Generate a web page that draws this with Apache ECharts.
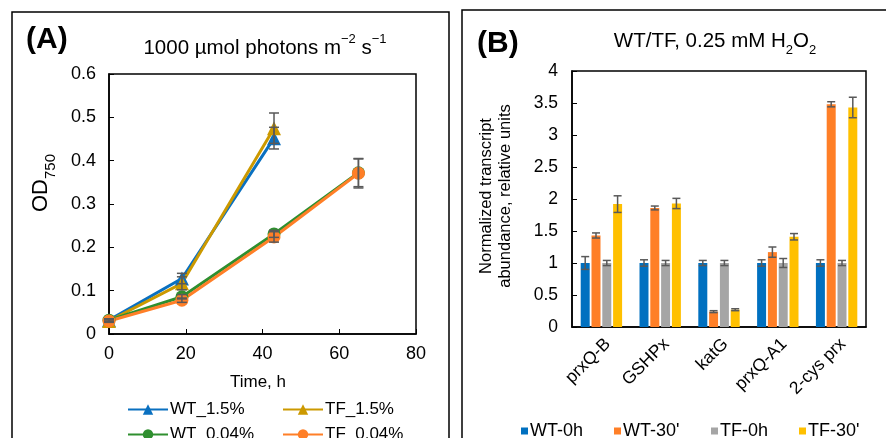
<!DOCTYPE html>
<html><head><meta charset="utf-8">
<script src="https://cdn.jsdelivr.net/npm/echarts@6/dist/echarts.min.js"></script>
<style>html,body{margin:0;padding:0;background:#fff}#c{width:886px;height:438px}</style>
</head><body><div id="c"></div>
<script>
const FONT = 'Liberation Sans, Arial, sans-serif';

// ---- Panel A data (OD750 vs time) ----
const timesHigh = [0, 19, 43];
const timesLow = [0, 19, 43, 65];
const wt15 = [0.032, 0.128, 0.452];
const wt15Err = [0.003, 0.012, 0.025];
const tf15 = [0.030, 0.117, 0.475];
const tf15Err = [0.003, 0.015, 0.035];
const wt004 = [0.032, 0.086, 0.231, 0.372];
const wt004Err = [0.003, 0.005, 0.008, 0.032];
const tf004 = [0.030, 0.078, 0.224, 0.371];
const tf004Err = [0.003, 0.005, 0.012, 0.034];

// ---- Panel B data (transcript abundance) ----
const genes = ['prxQ-B', 'GSHPx', 'katG', 'prxQ-A1', '2-cys prx'];
const wt0 = [1, 1, 1, 1, 1];
const wt0Err = [0.10, 0.05, 0.04, 0.05, 0.05];
const wt30 = [1.43, 1.86, 0.24, 1.17, 3.48];
const wt30Err = [0.04, 0.03, 0.015, 0.08, 0.04];
const tf0 = [1, 1, 1, 1, 1];
const tf0Err = [0.04, 0.04, 0.04, 0.07, 0.04];
const tf30 = [1.92, 1.93, 0.27, 1.41, 3.43];
const tf30Err = [0.13, 0.08, 0.015, 0.05, 0.16];

const cBlue = '#0a70c0', cGold = '#cc9900', cGreen = '#2f8f2f', cOrange = '#ff7f27';
const bBlue = '#0070c0', bOrange = '#ff7f27', bGray = '#a5a5a5', bYellow = '#ffc000';
const errColor = '#595959';

function pairs(xs, ys) { return xs.map((x, i) => [x, ys[i]]); }
function errData(xs, ys, es) { return xs.map((x, i) => [x, ys[i] - es[i], ys[i] + es[i]]); }

function errRender(offset, cap) {
  return function (params, api) {
    const x = api.value(0), lo = api.value(1), hi = api.value(2);
    const t = api.coord([x, hi]), b = api.coord([x, lo]);
    const cx = t[0] + offset;
    const st = { stroke: errColor, lineWidth: 1.5 };
    return {
      type: 'group',
      children: [
        { type: 'line', shape: { x1: cx, y1: t[1], x2: cx, y2: b[1] }, style: st },
        { type: 'line', shape: { x1: cx - cap, y1: t[1], x2: cx + cap, y2: t[1] }, style: st },
        { type: 'line', shape: { x1: cx - cap, y1: b[1], x2: cx + cap, y2: b[1] }, style: st }
      ]
    };
  };
}

function lineSeries(name, xs, ys, color, symbol, size) {
  return {
    name, type: 'line', xAxisIndex: 0, yAxisIndex: 0,
    data: pairs(xs, ys), symbol, symbolSize: size,
    lineStyle: { color, width: 3 }, itemStyle: { color },
    emphasis: { disabled: true }, z: 3
  };
}
function errSeriesA(xs, ys, es) {
  return {
    type: 'custom', xAxisIndex: 0, yAxisIndex: 0, z: 5,
    data: errData(xs, ys, es), renderItem: errRender(0, 5), silent: true
  };
}

const BW = 9, GAP = 1.8;
function barSeries(name, ys, color) {
  return {
    name, type: 'bar', xAxisIndex: 1, yAxisIndex: 1, data: ys,
    barWidth: BW, barGap: '20%', itemStyle: { color }, emphasis: { disabled: true }
  };
}
function errSeriesB(ys, es, idx) {
  return {
    type: 'custom', xAxisIndex: 1, yAxisIndex: 1, z: 5,
    data: ys.map((y, i) => [i, y - es[i], y + es[i]]),
    renderItem: errRender((idx - 1.5) * (BW + GAP), 4), silent: true
  };
}

function lab(size) { return { color: '#000', fontSize: size, fontFamily: FONT }; }

function legendItem(name, left, top, size, opts) {
  return Object.assign({
    data: [name], left, top, itemGap: 0,
    textStyle: { color: '#000', fontSize: size, fontFamily: FONT, padding: [0, 0, 0, -3] },
    selectedMode: false
  }, opts);
}
const legA = { itemWidth: 40, itemHeight: 13 };
const legB = { itemWidth: 7, itemHeight: 7, icon: 'rect' };

const option = {
  animation: false,
  backgroundColor: '#fff',
  grid: [
    { left: 109, top: 74, width: 307, height: 260, show: true, borderColor: '#000', borderWidth: 1.5, backgroundColor: 'transparent' },
    { left: 572, top: 71, width: 294, height: 256, show: true, borderColor: '#000', borderWidth: 1.5, backgroundColor: 'transparent' }
  ],
  xAxis: [
    {
      type: 'value', gridIndex: 0, min: 0, max: 80, interval: 20,
      axisLine: { show: true, lineStyle: { color: '#000', width: 1.5 } },
      axisTick: { show: true, inside: true, length: 5, lineStyle: { color: '#000' } },
      splitLine: { show: false },
      axisLabel: Object.assign({ margin: 11 }, lab(18))
    },
    {
      type: 'category', gridIndex: 1, data: genes,
      axisLine: { show: true, lineStyle: { color: '#000', width: 1.5 } },
      axisTick: { show: false },
      axisLabel: Object.assign({ rotate: 45, margin: 8, interval: 0, verticalAlign: 'top' }, lab(17.5))
    }
  ],
  yAxis: [
    {
      type: 'value', gridIndex: 0, min: 0, max: 0.6, interval: 0.1,
      axisLine: { show: true, lineStyle: { color: '#000', width: 1.5 } },
      axisTick: { show: true, inside: true, length: 5, lineStyle: { color: '#000' } },
      splitLine: { show: false },
      axisLabel: Object.assign({ margin: 13 }, lab(18))
    },
    {
      type: 'value', gridIndex: 1, min: 0, max: 4, interval: 0.5,
      axisLine: { show: true, lineStyle: { color: '#000', width: 1.5 } },
      axisTick: { show: true, inside: true, length: 5, lineStyle: { color: '#000' } },
      splitLine: { show: false },
      axisLabel: Object.assign({ margin: 14 }, lab(17.5))
    }
  ],
  legend: [
    legendItem('WT_1.5%', 122, 396, 17, legA),
    legendItem('TF_1.5%', 277, 396, 17, legA),
    legendItem('WT_0.04%', 122, 421, 17, legA),
    legendItem('TF_0.04%', 277, 421, 17, legA),
    legendItem('WT-0h', 516, 417, 18, legB),
    legendItem('WT-30\'', 609, 417, 18, legB),
    legendItem('TF-0h', 706, 417, 18, legB),
    legendItem('TF-30\'', 794, 417, 18, legB)
  ],
  series: [
    lineSeries('WT_1.5%', timesHigh, wt15, cBlue, 'triangle', 14),
    lineSeries('TF_1.5%', timesHigh, tf15, cGold, 'triangle', 14),
    lineSeries('WT_0.04%', timesLow, wt004, cGreen, 'circle', 13),
    lineSeries('TF_0.04%', timesLow, tf004, cOrange, 'circle', 13),
    errSeriesA(timesHigh, wt15, wt15Err),
    errSeriesA(timesHigh, tf15, tf15Err),
    errSeriesA(timesLow, wt004, wt004Err),
    errSeriesA(timesLow, tf004, tf004Err),
    barSeries('WT-0h', wt0, bBlue),
    barSeries('WT-30\'', wt30, bOrange),
    barSeries('TF-0h', tf0, bGray),
    barSeries('TF-30\'', tf30, bYellow),
    errSeriesB(wt0, wt0Err, 0),
    errSeriesB(wt30, wt30Err, 1),
    errSeriesB(tf0, tf0Err, 2),
    errSeriesB(tf30, tf30Err, 3)
  ],
  graphic: [
    { type: 'rect', shape: { x: 12, y: 12, width: 437, height: 460 }, style: { fill: 'none', stroke: '#000', lineWidth: 1.5 }, silent: true },
    { type: 'rect', shape: { x: 462, y: 10, width: 440, height: 460 }, style: { fill: 'none', stroke: '#000', lineWidth: 1.5 }, silent: true },
    { type: 'text', x: 26, y: 40, style: { text: '(A)', fontSize: 30, fontWeight: 'bold', fontFamily: FONT, fill: '#000', verticalAlign: 'middle', align: 'left' } },
    { type: 'text', x: 477, y: 44, style: { text: '(B)', fontSize: 30, fontWeight: 'bold', fontFamily: FONT, fill: '#000', verticalAlign: 'middle', align: 'left' } },
    {
      type: 'text', x: 265, y: 46,
      style: {
        text: '{a|1000 µmol photons m}{s|\u22122}{a| s}{s|\u22121}', fontFamily: FONT, fill: '#000',
        align: 'center', verticalAlign: 'middle',
        rich: { a: { fontSize: 20.5, fontFamily: FONT, lineHeight: 26, verticalAlign: 'bottom' }, s: { fontSize: 13, fontFamily: FONT, lineHeight: 26, verticalAlign: 'top', padding: [0, 0, 7, 0] } }
      }
    },
    {
      type: 'text', x: 715, y: 44,
      style: {
        text: '{a|WT/TF, 0.25 mM H}{s|2}{a|O}{s|2}', fontFamily: FONT, fill: '#000',
        align: 'center', verticalAlign: 'middle',
        rich: { a: { fontSize: 20.5, fontFamily: FONT, lineHeight: 26, verticalAlign: 'top' }, s: { fontSize: 13, fontFamily: FONT, lineHeight: 26, verticalAlign: 'bottom', padding: [7, 0, 0, 0] } }
      }
    },
    {
      type: 'text', x: 44, y: 183, rotation: Math.PI / 2,
      style: {
        text: '{a|OD}{s|750}', fontFamily: FONT, fill: '#000', align: 'center', verticalAlign: 'middle',
        rich: { a: { fontSize: 22, fontFamily: FONT, lineHeight: 28, verticalAlign: 'top' }, s: { fontSize: 15, fontFamily: FONT, lineHeight: 28, verticalAlign: 'bottom', padding: [8, 0, 0, 0] } }
      }
    },
    { type: 'text', x: 258, y: 382, style: { text: 'Time, h', fontSize: 17, fontFamily: FONT, fill: '#000', align: 'center', verticalAlign: 'middle' } },
    { type: 'text', x: 486, y: 196, rotation: Math.PI / 2, style: { text: 'Normalized transcript', fontSize: 16.5, fontFamily: FONT, fill: '#000', align: 'center', verticalAlign: 'middle' } },
    { type: 'text', x: 505, y: 196, rotation: Math.PI / 2, style: { text: 'abundance, relative units', fontSize: 16.5, fontFamily: FONT, fill: '#000', align: 'center', verticalAlign: 'middle' } }
  ]
};

const chart = echarts.init(document.getElementById('c'), null, { renderer: 'canvas' });
chart.setOption(option);
</script>
</body></html>
